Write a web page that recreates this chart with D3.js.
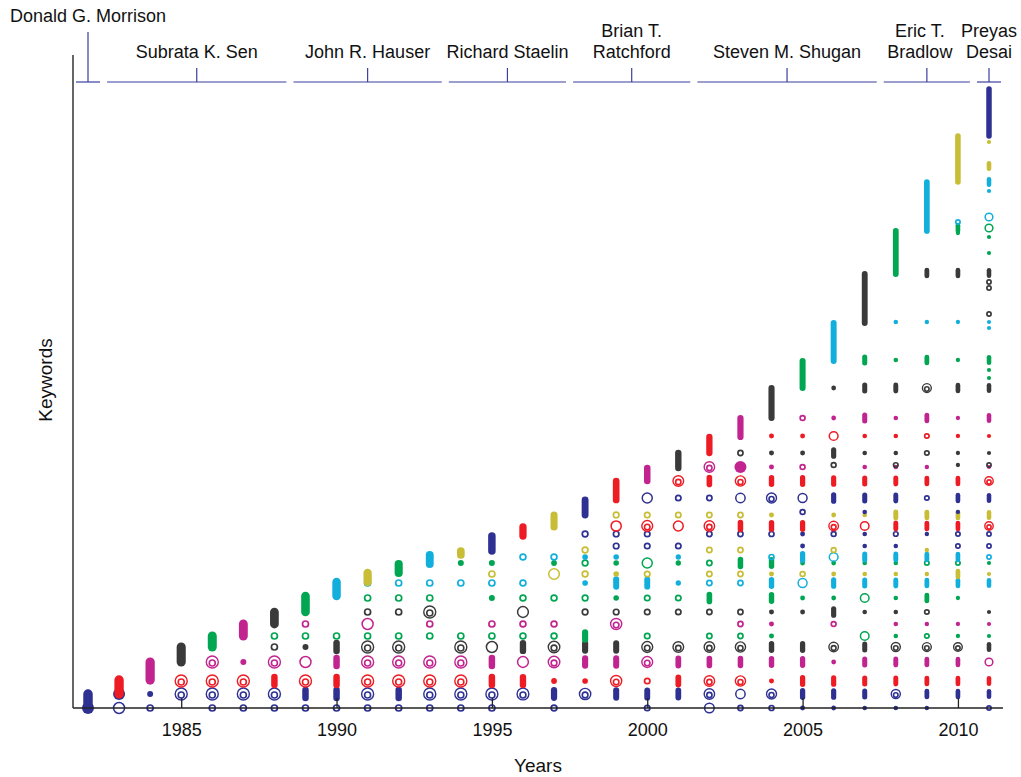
<!DOCTYPE html>
<html>
<head>
<meta charset="utf-8">
<script src="https://cdn.jsdelivr.net/npm/d3@7"></script>
<style>
  body { margin: 0; background: #fff; }
  text { font-family: "Liberation Sans", Arial, Helvetica, sans-serif; fill: #111; }
</style>
</head>
<body>
<div id="vis"></div>
<script>
const WIDTH = 1021, HEIGHT = 777;

// años y color de las palabras clave nuevas de cada año
const years = [1982, 1983, 1984, 1985, 1986, 1987, 1988, 1989, 1990, 1991,
               1992, 1993, 1994, 1995, 1996, 1997, 1998, 1999, 2000, 2001,
               2002, 2003, 2004, 2005, 2006, 2007, 2008, 2009, 2010, 2011];
const yearColors = ["B","R","M","K","G","M","K","G","C","Y",
                    "G","C","Y","B","R","Y","B","R","M","K",
                    "R","M","K","G","C","K","G","C","Y","B"];
// total acumulado de palabras clave al final de cada año
const cumKeywords = [28, 56, 92, 122, 144, 168, 192, 224, 252, 270,
                     288, 306, 314, 344, 362, 386, 416, 454, 480, 510,
                     542, 580, 640, 694, 770, 868, 954, 1052, 1144, 1238];
const tickYears = [1985, 1990, 1995, 2000, 2005, 2010];

// editores
const editorNames = [["Donald G. Morrison"], ["Subrata K. Sen"], ["John R. Hauser"], ["Richard Staelin"],
                     ["Brian T.", "Ratchford"], ["Steven M. Shugan"], ["Eric T.", "Bradlow"], ["Preyas", "Desai"]];
const editorStart = [1982, 1983, 1989, 1994, 1998, 2002, 2008, 2011];
const editorEnd   = [1982, 1988, 1993, 1997, 2001, 2007, 2010, 2011];

// palabras clave que reaparecen: [indice, color, uso por año 1982..2011]
// o = anillo chico, O = anillo grande, W = anillos dobles, f = punto, F = punto alargado, P = punto grande
const repeatKeywords = [
  [0,   "B", "POo.oooooooooo.o..o.Ooofffff.o"],
  [28,  "B", ".PfWWWWFFWFWWWWFWFFFWOWFFFWFFF"],
  [54,  "R", "...WWWFWFWWWWFFffWoFWWfFFFFFFF"],
  [92,  "M", "....WfWOFWWWWFOWFFWFFFFFfFFFFO"],
  [122, "K", "......ofFWW.WOFWFFWWWWFFWFWWWF"],
  [144, "G", "......ooooooooooF.o.oof..Ofoff"],
  [168, "M", ".......o.O.o.ooo.W...of.o.ffff"],
  [192, "K", ".........ooW..O.ooooooffFffo.f"],
  [220, "G", ".........ooo.fooofooF.FffOfFf."],
  [250, "C", ".........oooooo.fFFfooFOFFFFFF"],
  [268, "Y", ".............o.Oofo.oofoffffFf"],
  [290, "G", "............ff.fofOfoFFffffoof"],
  [302, "C", "..............ooff.f..oFOFFFFo"],
  [316, "Y", "................o...oo..o..f.."],
  [324, "B", ".................ooo...f.ff.oo"],
  [348, "B", "................ooo.ooofofofoo"],
  [364, "R", ".................OWOWFFFWOFFFW"],
  [386, "Y", ".................ooooof.ffFFFF"],
  [392, "B", ".......................o.f..f."],
  [420, "B", "..................OooOWOFFFoFF"],
  [454, "R", "...................WFWFFFFFFFW"],
  [482, "M", "....................WPfo.fff.f"],
  [486, "K", "........................o.o.fo"],
  [510, "K", ".....................offFffoff"],
  [544, "R", "......................ffOffoff"],
  [580, "M", ".......................ofFfFfF"],
  [640, "K", "........................fFFWFF"],
  [696, "G", ".........................FfFfF"],
  [772, "C", "..........................ffff"],
  [870, "K", "...........................FFF"],
  [960, "G", "............................FO"]
];
// puntos sueltos de los últimos años: [año, indice, color, forma]
const lateKeywords = [
  [2011, 660, "G", "f"], [2011, 676, "G", "f"], [2011, 760, "C", "f"], [2011, 788, "K", "o"],
  [2011, 840, "K", "o"], [2011, 852, "K", "o"], [2011, 910, "G", "f"], [2011, 942, "G", "f"],
  [2010, 950, "G", "f"], [2010, 972, "C", "o"], [2011, 982, "C", "O"], [2011, 1034, "C", "f"],
  [2011, 1052, "C", "F"], [2011, 1084, "Y", "F"], [2011, 1132, "Y", "f"]
];

const palette = {
  B: "#2e3192", R: "#ed1c24", M: "#c2248f", K: "#3a3a3a",
  G: "#00a651", C: "#12afdd", Y: "#c9bd35"
};

const svg = d3.select("#vis").append("svg").attr("width", WIDTH).attr("height", HEIGHT);

const x = d3.scaleLinear().domain([1982, 2011]).range([88, 989]);
const y = d3.scaleLinear().domain([0, 1240]).range([708, 88]);
const sizeYear = d3.scaleLinear().domain([1982, 1995, 2011]).range([1, 1, 0.7]);
const barWidth = d3.scaleLinear().domain([1982, 1990, 2000, 2011]).range([9.5, 8.5, 6.5, 5.5]);

// dibuja un punto de palabra clave
function drawMark(g, year, k, col, code) {
  const cx = x(year), cy = y(k), s = sizeYear(year), c = palette[col];
  if (code === "o") {
    g.append("circle").attr("cx", cx).attr("cy", cy).attr("r", 3 * s)
      .attr("fill", "none").attr("stroke", c).attr("stroke-width", 1.7);
  } else if (code === "O") {
    g.append("circle").attr("cx", cx).attr("cy", cy).attr("r", 5.5 * s)
      .attr("fill", "none").attr("stroke", c).attr("stroke-width", 1.5);
  } else if (code === "W") {
    g.append("circle").attr("cx", cx).attr("cy", cy).attr("r", 6 * s)
      .attr("fill", "none").attr("stroke", c).attr("stroke-width", 1.4);
    g.append("circle").attr("cx", cx).attr("cy", cy + 1).attr("r", 3 * s)
      .attr("fill", "none").attr("stroke", c).attr("stroke-width", 1.6);
  } else if (code === "f") {
    g.append("circle").attr("cx", cx).attr("cy", cy).attr("r", 3 * s).attr("fill", c);
  } else if (code === "F") {
    g.append("line").attr("x1", cx).attr("x2", cx).attr("y1", cy - 4 * s).attr("y2", cy + 4 * s)
      .attr("stroke", c).attr("stroke-width", 6.5 * s).attr("stroke-linecap", "round");
  } else if (code === "P") {
    g.append("circle").attr("cx", cx).attr("cy", cy).attr("r", 6).attr("fill", c);
  }
}

const dots = svg.append("g").attr("id", "dots");
repeatKeywords.forEach(([k, col, uses]) => {
  uses.split("").forEach((code, i) => {
    if (code !== ".") drawMark(dots, years[i], k, col, code);
  });
});
lateKeywords.forEach(([yr, k, col, code]) => drawMark(dots, yr, k, col, code));

// barras de palabras clave nuevas
svg.append("g").attr("id", "bars")
  .selectAll("line")
  .data(years)
  .join("line")
  .attr("x1", d => x(d)).attr("x2", d => x(d))
  .attr("y1", (d, i) => y(i === 0 ? 0 : cumKeywords[i - 1]))
  .attr("y2", (d, i) => y(cumKeywords[i]))
  .attr("stroke", (d, i) => palette[yearColors[i]])
  .attr("stroke-width", d => barWidth(d))
  .attr("stroke-linecap", "round");

// ejes
svg.append("line").attr("x1", 73).attr("x2", 73).attr("y1", 55).attr("y2", 708)
  .attr("stroke", "#333").attr("stroke-width", 1.5);
svg.append("line").attr("x1", 73).attr("x2", 1003).attr("y1", 708).attr("y2", 708)
  .attr("stroke", "#222").attr("stroke-width", 1.5);

const ejeX = svg.append("g").attr("transform", "translate(0,708)")
  .call(d3.axisBottom(x).tickValues(tickYears).tickSize(-10).tickPadding(15).tickFormat(d3.format("d")));
ejeX.select(".domain").remove();
ejeX.selectAll(".tick line").attr("stroke", "#222").attr("stroke-width", 1.3);
ejeX.selectAll("text").attr("font-size", 18).attr("font-family", "Liberation Sans, Arial, sans-serif").attr("fill", "#111");

svg.append("text").attr("x", 538).attr("y", 772).attr("text-anchor", "middle")
  .attr("font-size", 19).text("Years");
svg.append("text").attr("transform", "translate(52,380) rotate(-90)").attr("text-anchor", "middle")
  .attr("font-size", 19).text("Keywords");

// corchetes de editores
const editors = svg.append("g").attr("id", "editors");
editorNames.forEach((lines, i) => {
  const x0 = x(editorStart[i]) - 12, x1 = x(editorEnd[i]) + 12, xm = (x(editorStart[i]) + x(editorEnd[i])) / 2;
  const top = i === 0 ? 32 : 68;
  editors.append("line").attr("x1", x0).attr("x2", x1).attr("y1", 82).attr("y2", 82)
    .attr("stroke", "#3a3f9e").attr("stroke-width", 1.2);
  editors.append("line").attr("x1", xm).attr("x2", xm).attr("y1", 82).attr("y2", top)
    .attr("stroke", "#3a3f9e").attr("stroke-width", 1.2);
  const base = i === 0 ? 22 : 58;
  // el nombre de Bradlow va un poco a la izquierda para no chocar con Desai
  const shift = i === 6 ? -7 : 0;
  lines.forEach((t, j) => {
    editors.append("text").attr("x", xm + shift).attr("y", base - (lines.length - 1 - j) * 21)
      .attr("text-anchor", "middle").attr("font-size", 18).text(t);
  });
});
</script>
</body>
</html>
